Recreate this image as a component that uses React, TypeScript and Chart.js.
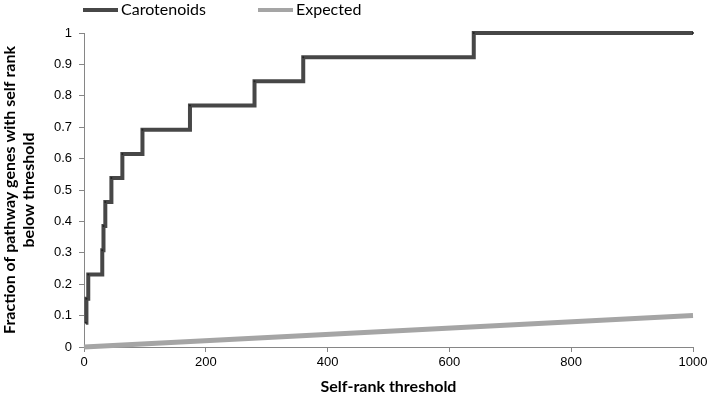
import React, { useEffect, useRef } from "react";
import { Chart, registerables } from "chart.js";

Chart.register(...registerables);

const seriesNames = ["Carotenoids", "Expected"];
const carotenoidRanks = [3, 4, 7, 30, 32, 35, 45, 63, 96, 174, 280, 360, 640, 1000];
const carotenoidFractions = [0.077, 0.154, 0.231, 0.308, 0.385, 0.462, 0.538, 0.615, 0.692, 0.769, 0.846, 0.923, 1.0, 1.0];
const expectedRanks = [0, 1000];
const expectedFractions = [0, 0.1];
const xTitle = "Self-rank threshold";
const yTitle = ["Fraction of pathway genes with self rank", "below threshold"];

const DARK = "#474747";
const LIGHT = "#a5a5a5";
const AXIS = "#868686";

const legendPlugin = {
  id: "customLegend",
  afterDraw(chart: any) {
    const ctx = chart.ctx;
    const positions = [83, 258];
    const colors = [DARK, LIGHT];
    ctx.save();
    seriesNames.forEach((name, i) => {
      const x = positions[i];
      const y = 10;
      ctx.strokeStyle = colors[i];
      ctx.lineWidth = 4;
      ctx.beginPath();
      ctx.moveTo(x, y);
      ctx.lineTo(x + 35, y);
      ctx.stroke();
      ctx.fillStyle = "#000";
      ctx.font = "16px Lato";
      ctx.textBaseline = "middle";
      ctx.textAlign = "left";
      ctx.fillText(name, x + 38, y);
    });
    ctx.restore();
  },
};

export default function App() {
  const ref = useRef<HTMLCanvasElement>(null);
  useEffect(() => {
    const chart = new Chart(ref.current!, {
      type: "line",
      data: {
        datasets: [
          {
            label: seriesNames[0],
            data: carotenoidRanks.map((x, i) => ({ x, y: carotenoidFractions[i] })),
            borderColor: DARK,
            backgroundColor: "#222",
            borderWidth: 4,
            stepped: "before",
            pointRadius: 1,
            pointBorderWidth: 0,
            pointBackgroundColor: "#222",
            clip: false,
          },
          {
            label: seriesNames[1],
            data: expectedRanks.map((x, i) => ({ x, y: expectedFractions[i] })),
            borderColor: LIGHT,
            backgroundColor: LIGHT,
            borderWidth: 5,
            pointRadius: 0,
            clip: false,
          },
        ],
      },
      options: {
        animation: false,
        responsive: false,
        layout: { padding: { top: 33, right: 18, left: 0, bottom: 0 } },
        plugins: { legend: { display: false }, tooltip: { enabled: false } },
        scales: {
          x: {
            type: "linear",
            min: 0,
            max: 1000,
            ticks: { stepSize: 200, color: "#000", font: { family: "Liberation Sans", size: 13 }, padding: 3, maxRotation: 0, callback: (v: any) => String(v) },
            grid: { display: true, drawOnChartArea: false, drawTicks: true, tickLength: 5, color: AXIS },
            border: { color: AXIS, width: 1 },
            title: { display: true, text: xTitle, color: "#000", font: { family: "Lato", size: 16, weight: "bold" }, padding: { top: 0, bottom: 5 } },
            afterFit: (s: any) => { s.height = 54; },
          },
          y: {
            type: "linear",
            min: 0,
            max: 1,
            ticks: { stepSize: 0.1, color: "#000", font: { family: "Liberation Sans", size: 13 }, padding: 7, callback: (v: any) => String(Math.round(Number(v) * 10) / 10) },
            grid: { display: true, drawOnChartArea: false, drawTicks: true, tickLength: 5, color: AXIS },
            border: { color: AXIS, width: 1 },
            title: { display: true, text: yTitle, color: "#000", font: { family: "Lato", size: 16, weight: "bold" }, padding: { top: 0, bottom: 0 } },
            afterFit: (s: any) => { s.width = 84; },
          },
        },
      },
      plugins: [legendPlugin],
    } as any);
    return () => chart.destroy();
  }, []);
  return (
    <div style={{ position: "fixed", left: 0, top: 0, width: 711, height: 401, background: "#fff" }}>
      <canvas ref={ref} width={711} height={401} style={{ display: "block" }} />
    </div>
  );
}
